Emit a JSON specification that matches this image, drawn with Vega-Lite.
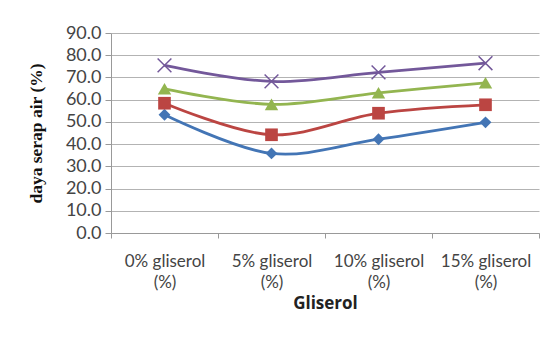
{
  "$schema": "https://vega.github.io/schema/vega-lite/v6.json",
  "width": 428,
  "height": 200,
  "autosize": "none",
  "padding": {"left": 111, "top": 33, "right": 6, "bottom": 108},
  "background": "white",
  "config": {"view": {"stroke": null}, "font": "Lato"},
  "data": {
    "values": [
      {"gliserol": "0% gliserol (%)", "seri": "1", "nilai": 53.2},
      {"gliserol": "5% gliserol (%)", "seri": "1", "nilai": 35.8},
      {"gliserol": "10% gliserol (%)", "seri": "1", "nilai": 42.2},
      {"gliserol": "15% gliserol (%)", "seri": "1", "nilai": 49.8},
      {"gliserol": "0% gliserol (%)", "seri": "2", "nilai": 58.4},
      {"gliserol": "5% gliserol (%)", "seri": "2", "nilai": 44.2},
      {"gliserol": "10% gliserol (%)", "seri": "2", "nilai": 53.9},
      {"gliserol": "15% gliserol (%)", "seri": "2", "nilai": 57.7},
      {"gliserol": "0% gliserol (%)", "seri": "3", "nilai": 64.9},
      {"gliserol": "5% gliserol (%)", "seri": "3", "nilai": 57.9},
      {"gliserol": "10% gliserol (%)", "seri": "3", "nilai": 63.1},
      {"gliserol": "15% gliserol (%)", "seri": "3", "nilai": 67.6},
      {"gliserol": "0% gliserol (%)", "seri": "4", "nilai": 75.4},
      {"gliserol": "5% gliserol (%)", "seri": "4", "nilai": 68.2},
      {"gliserol": "10% gliserol (%)", "seri": "4", "nilai": 72.3},
      {"gliserol": "15% gliserol (%)", "seri": "4", "nilai": 76.4}
    ]
  },
  "encoding": {
    "x": {
      "field": "gliserol",
      "type": "nominal",
      "sort": ["0% gliserol (%)", "5% gliserol (%)", "10% gliserol (%)", "15% gliserol (%)"],
      "bandPosition": 0.5,
      "scale": {"type": "band", "paddingInner": 0, "paddingOuter": 0},
      "axis": {
        "title": "Gliserol",
        "titleFont": "Open Sans",
        "titleFontWeight": "bold",
        "titleFontSize": 17,
        "titleColor": "#222",
        "titlePadding": 5,
        "labelExpr": "datum.label ? [replace(datum.label, ' (%)', ''), '(%)'] : ''",
        "labelAngle": 0,
        "labelFont": "Lato",
        "labelFontSize": 17,
        "labelColor": "#444",
        "labelLineHeight": 21,
        "labelPadding": 15,
        "tickBand": "extent",
        "tickSize": 5,
        "tickColor": "#999",
        "domainColor": "#999",
        "grid": false
      }
    },
    "y": {
      "field": "nilai",
      "type": "quantitative",
      "scale": {"domain": [0, 90], "nice": false},
      "axis": {
        "title": "daya serap air (%)",
        "titleFont": "Liberation Serif",
        "titleFontWeight": "bold",
        "titleFontSize": 17.5,
        "titleColor": "#111",
        "titlePadding": 20,
        "values": [0, 10, 20, 30, 40, 50, 60, 70, 80, 90],
        "format": ".1f",
        "labelFont": "Lato",
        "labelFontSize": 18,
        "labelColor": "#444",
        "labelPadding": 4,
        "tickSize": 6,
        "tickColor": "#999",
        "domainColor": "#999",
        "gridColor": "#b3b3b3",
        "gridWidth": 1
      }
    },
    "color": {
      "field": "seri",
      "type": "nominal",
      "scale": {"domain": ["1", "2", "3", "4"], "range": ["#4375b5", "#bb4542", "#93b550", "#73589a"]},
      "legend": null
    }
  },
  "layer": [
    {"mark": {"type": "line", "interpolate": "cardinal", "strokeWidth": 2.8}},
    {
      "transform": [{"filter": "datum.seri != '4'"}],
      "mark": {"type": "point", "filled": true, "opacity": 1},
      "encoding": {
        "shape": {
          "field": "seri",
          "type": "nominal",
          "scale": {"domain": ["1", "2", "3"], "range": ["diamond", "square", "triangle-up"]},
          "legend": null
        },
        "size": {
          "field": "seri",
          "type": "nominal",
          "scale": {"domain": ["1", "2", "3"], "range": [140, 180, 160]},
          "legend": null
        }
      }
    },
    {
      "transform": [{"filter": "datum.seri == '4'"}],
      "mark": {
        "type": "point",
        "shape": "M-1,-1L1,1M-1,1L1,-1",
        "filled": false,
        "size": 190,
        "strokeWidth": 1.5,
        "color": "#ab9dc9",
        "opacity": 1
      }
    }
  ]
}
